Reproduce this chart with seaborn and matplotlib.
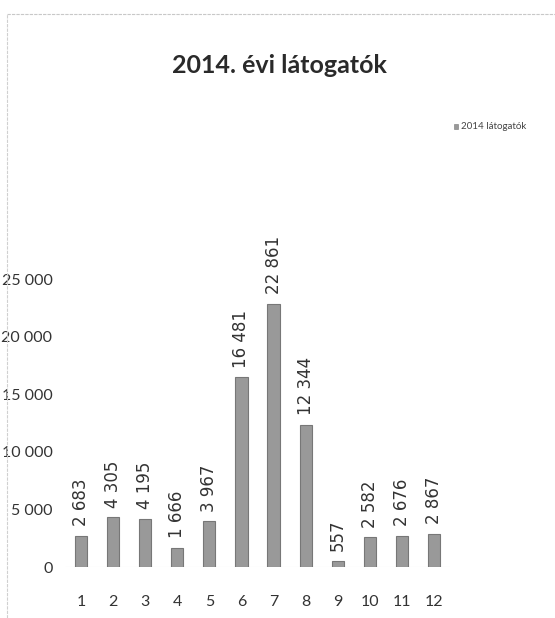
import matplotlib
matplotlib.use("Agg")
import matplotlib.pyplot as plt
from matplotlib.lines import Line2D
from matplotlib.patches import Rectangle
import seaborn as sns
import pandas as pd

# Monthly visitor counts for 2014
months = ["1", "2", "3", "4", "5", "6", "7", "8", "9", "10", "11", "12"]
visitors = [2683, 4305, 4195, 1666, 3967, 16481, 22861, 12344, 557, 2582, 2676, 2867]
y_ticks = [0, 5000, 10000, 15000, 20000, 25000]
y_tick_labels = ["0", "5 000", "10 000", "15 000", "20 000", "25 000"]
series_name = "2014 látogatók"
title = "2014. évi látogatók"

df = pd.DataFrame({"month": months, "visitors": visitors})

sns.set_theme(style="white")
plt.rcParams["font.family"] = ["Lato", "DejaVu Sans"]

fig = plt.figure(figsize=(5.55, 6.18), dpi=100)
ax = fig.add_axes([0.117, 0.0825, 0.694, 0.559])

sns.barplot(data=df, x="month", y="visitors", order=months, color="#999999",
            width=0.38, edgecolor="#777777", linewidth=0.8, saturation=1, ax=ax)

ax.set_ylim(0, 30000)
ax.set_xlim(-0.5, len(months) - 0.5)
ax.set_yticks(y_ticks)
ax.set_yticklabels(y_tick_labels)
ax.tick_params(axis="both", length=0, labelsize=11.5, colors="#333333")
ax.tick_params(axis="x", pad=20)
ax.tick_params(axis="y", pad=9)
ax.set_xlabel("")
ax.set_ylabel("")
for s in ax.spines.values():
    s.set_visible(False)
ax.axhline(0, color="#e2e2e2", linewidth=0.8, zorder=0)

# rotated value labels above the bars
for i, v in enumerate(visitors):
    label = f"{v:,}".replace(",", " ")
    ax.annotate(label, (i, v), xytext=(0, 7), textcoords="offset points",
                rotation=90, ha="center", va="bottom", fontsize=12,
                family="DejaVu Sans", color="#333333")

fig.text(0.503, 0.894, title, ha="center", va="center", fontsize=18,
         fontweight="bold", color="#2a2a2a")

# legend entry in the upper right
fig.patches.append(Rectangle((0.818, 0.791), 0.008, 0.008, transform=fig.transFigure,
                             facecolor="#999999", edgecolor="#777777", linewidth=0.4))
fig.text(0.831, 0.795, series_name, ha="left", va="center", fontsize=7, color="#444444")

# thin chart-area frame lines
fig.add_artist(Line2D([0.012, 1.0], [0.978, 0.978], transform=fig.transFigure,
                      color="#c8c8c8", linewidth=0.8, linestyle=(0, (3, 1))))
fig.add_artist(Line2D([0.012, 0.012], [0.0, 0.978], transform=fig.transFigure,
                      color="#d0d0d0", linewidth=0.8, linestyle=(0, (3, 1))))

fig.savefig("out.png", dpi=100)
